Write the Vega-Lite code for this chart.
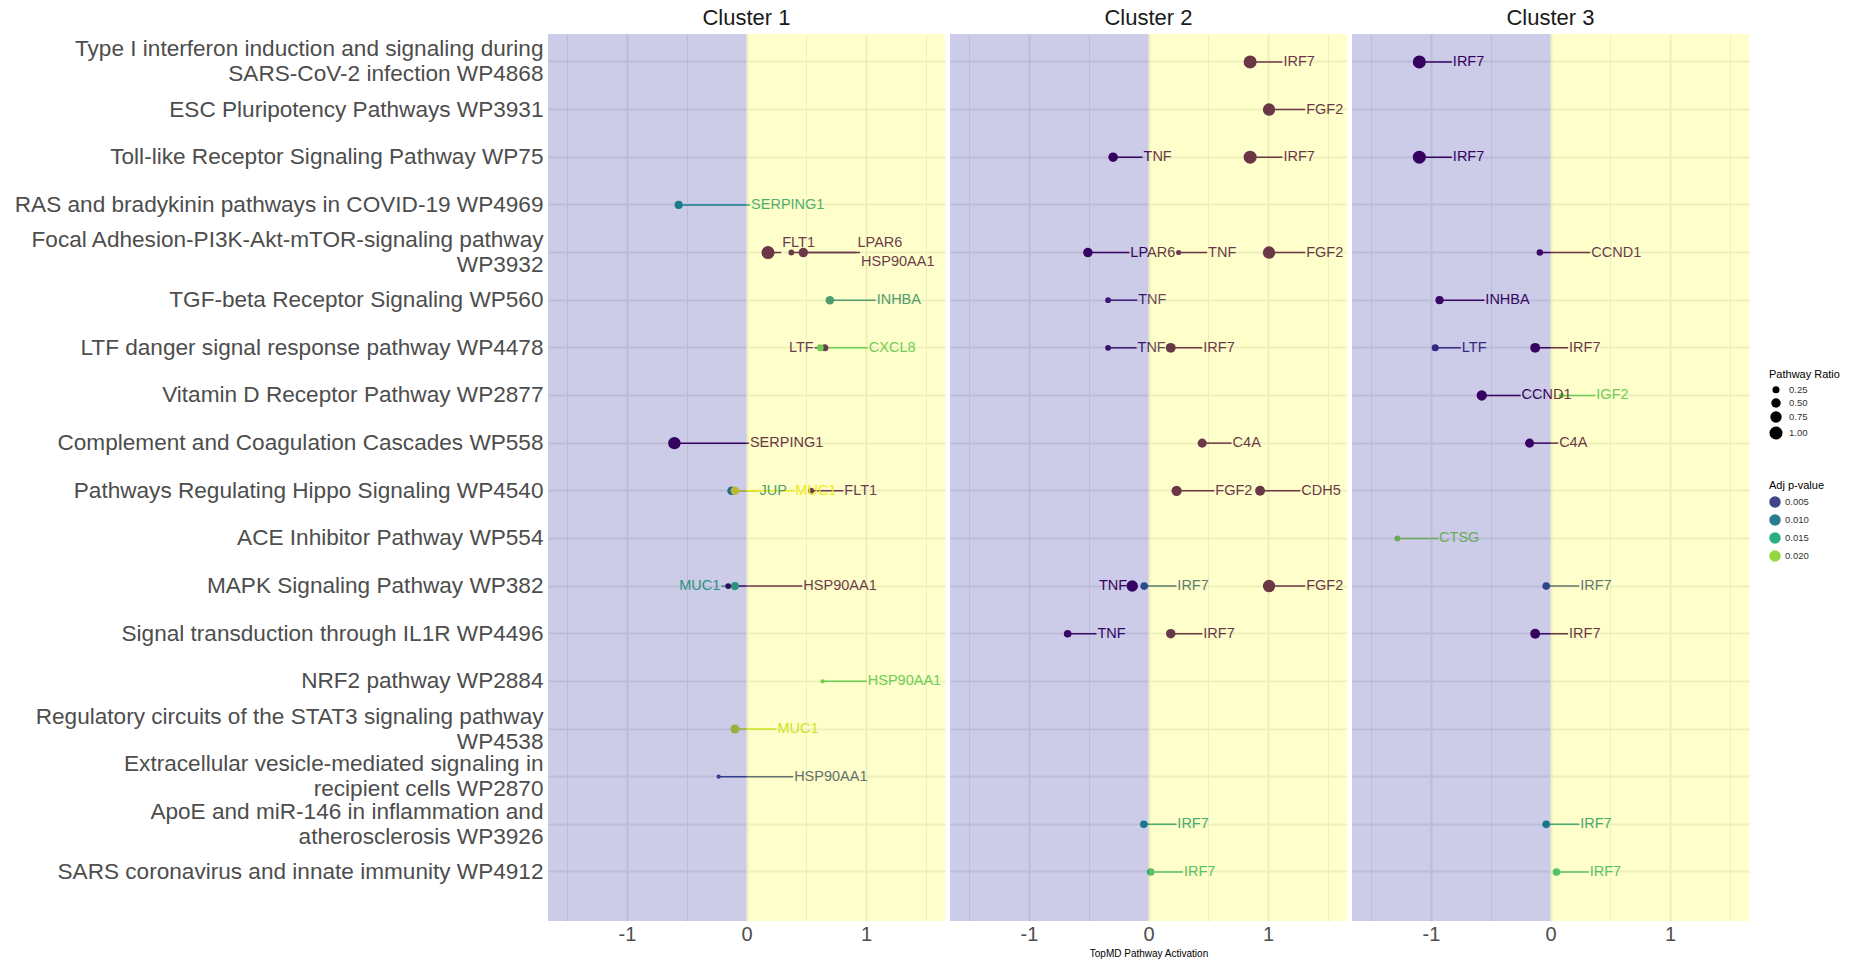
{
  "$schema": "https://vega.github.io/schema/vega-lite/v6.json",
  "background": "white",
  "padding": {"left": 14, "top": 7, "right": 5, "bottom": 5},
  "config": {
    "font": "Liberation Sans",
    "view": {"stroke": null},
    "axis": {"gridColor": "#EBEBEB", "domain": false, "ticks": false, "tickSize": 0, "title": null}
  },
  "data": {"values": [
    {"cluster": "Cluster 1", "pathway": "RAS and bradykinin pathways in COVID-19 WP4969", "gene": "SERPING1", "act": -0.567, "lab": 0.03, "shift": 0, "ratio": 0.35, "p": 0.013},
    {"cluster": "Cluster 1", "pathway": "Focal Adhesion-PI3K-Akt-mTOR-signaling pathway WP3932", "gene": "FLT1", "act": 0.18, "lab": 0.29, "shift": -1, "ratio": 1.0, "p": 0.0004},
    {"cluster": "Cluster 1", "pathway": "Focal Adhesion-PI3K-Akt-mTOR-signaling pathway WP3932", "gene": "LPAR6", "act": 0.375, "lab": 0.92, "shift": -1, "ratio": 0.15, "p": 0.0006},
    {"cluster": "Cluster 1", "pathway": "Focal Adhesion-PI3K-Akt-mTOR-signaling pathway WP3932", "gene": "HSP90AA1", "act": 0.475, "lab": 0.95, "shift": 1, "ratio": 0.5, "p": 0.0005},
    {"cluster": "Cluster 1", "pathway": "TGF-beta Receptor Signaling WP560", "gene": "INHBA", "act": 0.697, "lab": 1.08, "shift": 0, "ratio": 0.4, "p": 0.0105},
    {"cluster": "Cluster 1", "pathway": "LTF danger signal response pathway WP4478", "gene": "LTF", "act": 0.655, "lab": 0.57, "shift": 0, "ratio": 0.25, "p": 0.0008},
    {"cluster": "Cluster 1", "pathway": "LTF danger signal response pathway WP4478", "gene": "CXCL8", "act": 0.617, "lab": 1.015, "shift": 0, "ratio": 0.25, "p": 0.017},
    {"cluster": "Cluster 1", "pathway": "Complement and Coagulation Cascades WP558", "gene": "SERPING1", "act": -0.603, "lab": 0.02, "shift": 0, "ratio": 0.9, "p": 0.0002},
    {"cluster": "Cluster 1", "pathway": "Pathways Regulating Hippo Signaling WP4540", "gene": "JUP", "act": -0.125, "lab": 0.10, "shift": 0, "ratio": 0.4, "p": 0.011},
    {"cluster": "Cluster 1", "pathway": "Pathways Regulating Hippo Signaling WP4540", "gene": "MUC1", "act": -0.097, "lab": 0.40, "shift": 0, "ratio": 0.4, "p": 0.023},
    {"cluster": "Cluster 1", "pathway": "Pathways Regulating Hippo Signaling WP4540", "gene": "FLT1", "act": 0.54, "lab": 0.81, "shift": 0, "ratio": 0.15, "p": 0.0008},
    {"cluster": "Cluster 1", "pathway": "MAPK Signaling Pathway WP382", "gene": "MUC1", "act": -0.097, "lab": -0.21, "shift": 0, "ratio": 0.35, "p": 0.016},
    {"cluster": "Cluster 1", "pathway": "MAPK Signaling Pathway WP382", "gene": "HSP90AA1", "act": -0.153, "lab": 0.467, "shift": 0, "ratio": 0.15, "p": 0.0006},
    {"cluster": "Cluster 1", "pathway": "NRF2 pathway WP2884", "gene": "HSP90AA1", "act": 0.636, "lab": 1.006, "shift": 0, "ratio": 0.05, "p": 0.017},
    {"cluster": "Cluster 1", "pathway": "Regulatory circuits of the STAT3 signaling pathway WP4538", "gene": "MUC1", "act": -0.097, "lab": 0.25, "shift": 0, "ratio": 0.45, "p": 0.0214},
    {"cluster": "Cluster 1", "pathway": "Extracellular vesicle-mediated signaling in recipient cells WP2870", "gene": "HSP90AA1", "act": -0.233, "lab": 0.39, "shift": 0, "ratio": 0.05, "p": 0.0055},

    {"cluster": "Cluster 2", "pathway": "Type I interferon induction and signaling during SARS-CoV-2 infection WP4868", "gene": "IRF7", "act": 0.85, "lab": 1.12, "shift": 0, "ratio": 1.0, "p": 0.0003},
    {"cluster": "Cluster 2", "pathway": "ESC Pluripotency Pathways WP3931", "gene": "FGF2", "act": 1.008, "lab": 1.31, "shift": 0, "ratio": 0.9, "p": 0.0004},
    {"cluster": "Cluster 2", "pathway": "Toll-like Receptor Signaling Pathway WP75", "gene": "TNF", "act": -0.296, "lab": -0.05, "shift": 0, "ratio": 0.5, "p": 0.0003},
    {"cluster": "Cluster 2", "pathway": "Toll-like Receptor Signaling Pathway WP75", "gene": "IRF7", "act": 0.85, "lab": 1.12, "shift": 0, "ratio": 1.0, "p": 0.0003},
    {"cluster": "Cluster 2", "pathway": "Focal Adhesion-PI3K-Akt-mTOR-signaling pathway WP3932", "gene": "LPAR6", "act": -0.507, "lab": -0.16, "shift": 0, "ratio": 0.5, "p": 0.0004},
    {"cluster": "Cluster 2", "pathway": "Focal Adhesion-PI3K-Akt-mTOR-signaling pathway WP3932", "gene": "TNF", "act": 0.252, "lab": 0.49, "shift": 0, "ratio": 0.1, "p": 0.0005},
    {"cluster": "Cluster 2", "pathway": "Focal Adhesion-PI3K-Akt-mTOR-signaling pathway WP3932", "gene": "FGF2", "act": 1.008, "lab": 1.31, "shift": 0, "ratio": 0.9, "p": 0.0004},
    {"cluster": "Cluster 2", "pathway": "TGF-beta Receptor Signaling WP560", "gene": "TNF", "act": -0.338, "lab": -0.094, "shift": 0, "ratio": 0.15, "p": 0.002},
    {"cluster": "Cluster 2", "pathway": "LTF danger signal response pathway WP4478", "gene": "TNF", "act": -0.338, "lab": -0.1, "shift": 0, "ratio": 0.15, "p": 0.0015},
    {"cluster": "Cluster 2", "pathway": "LTF danger signal response pathway WP4478", "gene": "IRF7", "act": 0.186, "lab": 0.45, "shift": 0, "ratio": 0.55, "p": 0.0004},
    {"cluster": "Cluster 2", "pathway": "Complement and Coagulation Cascades WP558", "gene": "C4A", "act": 0.449, "lab": 0.695, "shift": 0, "ratio": 0.45, "p": 0.0005},
    {"cluster": "Cluster 2", "pathway": "Pathways Regulating Hippo Signaling WP4540", "gene": "FGF2", "act": 0.235, "lab": 0.55, "shift": 0, "ratio": 0.6, "p": 0.0004},
    {"cluster": "Cluster 2", "pathway": "Pathways Regulating Hippo Signaling WP4540", "gene": "CDH5", "act": 0.933, "lab": 1.27, "shift": 0, "ratio": 0.55, "p": 0.0004},
    {"cluster": "Cluster 2", "pathway": "MAPK Signaling Pathway WP382", "gene": "TNF", "act": -0.136, "lab": -0.17, "shift": 0, "ratio": 0.75, "p": 0.0003},
    {"cluster": "Cluster 2", "pathway": "MAPK Signaling Pathway WP382", "gene": "IRF7", "act": -0.036, "lab": 0.233, "shift": 0, "ratio": 0.3, "p": 0.007},
    {"cluster": "Cluster 2", "pathway": "MAPK Signaling Pathway WP382", "gene": "FGF2", "act": 1.008, "lab": 1.31, "shift": 0, "ratio": 0.9, "p": 0.0004},
    {"cluster": "Cluster 2", "pathway": "Signal transduction through IL1R WP4496", "gene": "TNF", "act": -0.676, "lab": -0.435, "shift": 0, "ratio": 0.3, "p": 0.0005},
    {"cluster": "Cluster 2", "pathway": "Signal transduction through IL1R WP4496", "gene": "IRF7", "act": 0.186, "lab": 0.45, "shift": 0, "ratio": 0.5, "p": 0.0004},
    {"cluster": "Cluster 2", "pathway": "ApoE and miR-146 in inflammation and atherosclerosis WP3926", "gene": "IRF7", "act": -0.039, "lab": 0.233, "shift": 0, "ratio": 0.3, "p": 0.0125},
    {"cluster": "Cluster 2", "pathway": "SARS coronavirus and innate immunity WP4912", "gene": "IRF7", "act": 0.019, "lab": 0.288, "shift": 0, "ratio": 0.3, "p": 0.0155},

    {"cluster": "Cluster 3", "pathway": "Type I interferon induction and signaling during SARS-CoV-2 infection WP4868", "gene": "IRF7", "act": -1.097, "lab": -0.825, "shift": 0, "ratio": 1.0, "p": 0.0002},
    {"cluster": "Cluster 3", "pathway": "Toll-like Receptor Signaling Pathway WP75", "gene": "IRF7", "act": -1.097, "lab": -0.825, "shift": 0, "ratio": 1.0, "p": 0.0002},
    {"cluster": "Cluster 3", "pathway": "Focal Adhesion-PI3K-Akt-mTOR-signaling pathway WP3932", "gene": "CCND1", "act": -0.089, "lab": 0.333, "shift": 0, "ratio": 0.2, "p": 0.0005},
    {"cluster": "Cluster 3", "pathway": "TGF-beta Receptor Signaling WP560", "gene": "INHBA", "act": -0.928, "lab": -0.553, "shift": 0, "ratio": 0.35, "p": 0.0005},
    {"cluster": "Cluster 3", "pathway": "LTF danger signal response pathway WP4478", "gene": "LTF", "act": -0.964, "lab": -0.75, "shift": 0, "ratio": 0.25, "p": 0.0035},
    {"cluster": "Cluster 3", "pathway": "LTF danger signal response pathway WP4478", "gene": "IRF7", "act": -0.128, "lab": 0.147, "shift": 0, "ratio": 0.55, "p": 0.0003},
    {"cluster": "Cluster 3", "pathway": "Vitamin D Receptor Pathway WP2877", "gene": "CCND1", "act": -0.575, "lab": -0.25, "shift": 0, "ratio": 0.6, "p": 0.0003},
    {"cluster": "Cluster 3", "pathway": "Vitamin D Receptor Pathway WP2877", "gene": "IGF2", "act": 0.092, "lab": 0.375, "shift": 0, "ratio": 0.1, "p": 0.017},
    {"cluster": "Cluster 3", "pathway": "Complement and Coagulation Cascades WP558", "gene": "C4A", "act": -0.175, "lab": 0.064, "shift": 0, "ratio": 0.45, "p": 0.0004},
    {"cluster": "Cluster 3", "pathway": "ACE Inhibitor Pathway WP554", "gene": "CTSG", "act": -1.28, "lab": -0.94, "shift": 0, "ratio": 0.15, "p": 0.0195},
    {"cluster": "Cluster 3", "pathway": "MAPK Signaling Pathway WP382", "gene": "IRF7", "act": -0.036, "lab": 0.24, "shift": 0, "ratio": 0.3, "p": 0.0065},
    {"cluster": "Cluster 3", "pathway": "Signal transduction through IL1R WP4496", "gene": "IRF7", "act": -0.128, "lab": 0.147, "shift": 0, "ratio": 0.55, "p": 0.0003},
    {"cluster": "Cluster 3", "pathway": "ApoE and miR-146 in inflammation and atherosclerosis WP3926", "gene": "IRF7", "act": -0.036, "lab": 0.24, "shift": 0, "ratio": 0.3, "p": 0.012},
    {"cluster": "Cluster 3", "pathway": "SARS coronavirus and innate immunity WP4912", "gene": "IRF7", "act": 0.05, "lab": 0.32, "shift": 0, "ratio": 0.3, "p": 0.0155}
  ]},
  "facet": {
    "column": {
      "field": "cluster", "type": "nominal",
      "header": {
        "title": "TopMD Pathway Activation", "titleOrient": "bottom", "titleFontSize": 10, "titleFontWeight": "normal", "titleColor": "#000000", "titlePadding": 0, "titleBaseline": "middle",
        "labelFontSize": 22, "labelColor": "#1A1A1A", "labelPadding": 4
      }
    }
  },
  "spacing": 5,
  "spec": {
    "width": 397,
    "height": 887,
    "layer": [
      {
        "mark": {"type": "rule", "strokeWidth": 1.5},
        "encoding": {
          "x": {"field": "act", "type": "quantitative"},
          "x2": {"field": "lab"},
          "y": {"field": "pathway", "type": "ordinal"},
          "color": {"field": "p", "type": "quantitative"}
        }
      },
      {
        "mark": {"type": "circle", "opacity": 1},
        "encoding": {
          "x": {"field": "act", "type": "quantitative",
            "scale": {"domain": [-1.66, 1.66], "nice": false, "zero": false},
            "axis": {"values": [-1.5, -1, -0.5, 0, 0.5, 1, 1.5], "labelExpr": "datum.value == -1 ? '-1' : datum.value == 0 ? '0' : datum.value == 1 ? '1' : ''",
              "gridWidth": {"condition": {"test": "datum.value % 1 == 0", "value": 2}, "value": 1},
              "labelFontSize": 20, "labelColor": "#4D4D4D", "labelPadding": 3}},
          "y": {"field": "pathway", "type": "ordinal",
            "scale": {"type": "band", "paddingInner": 0, "paddingOuter": 0.3075, "align": 0.14, "domain": [
              "Type I interferon induction and signaling during SARS-CoV-2 infection WP4868",
              "ESC Pluripotency Pathways WP3931",
              "Toll-like Receptor Signaling Pathway WP75",
              "RAS and bradykinin pathways in COVID-19 WP4969",
              "Focal Adhesion-PI3K-Akt-mTOR-signaling pathway WP3932",
              "TGF-beta Receptor Signaling WP560",
              "LTF danger signal response pathway WP4478",
              "Vitamin D Receptor Pathway WP2877",
              "Complement and Coagulation Cascades WP558",
              "Pathways Regulating Hippo Signaling WP4540",
              "ACE Inhibitor Pathway WP554",
              "MAPK Signaling Pathway WP382",
              "Signal transduction through IL1R WP4496",
              "NRF2 pathway WP2884",
              "Regulatory circuits of the STAT3 signaling pathway WP4538",
              "Extracellular vesicle-mediated signaling in recipient cells WP2870",
              "ApoE and miR-146 in inflammation and atherosclerosis WP3926",
              "SARS coronavirus and innate immunity WP4912"]},
            "axis": {"grid": true, "gridWidth": 2, "bandPosition": 0.5, "labelFontSize": 22.6, "labelColor": "#4D4D4D", "labelLimit": 1000, "labelPadding": 5, "labelLineHeight": 25,
              "labelOffset": {"condition": {"test": "length(datum.value) > 50", "value": -12.5}, "value": 0},
              "labelExpr": "datum.label == 'Type I interferon induction and signaling during SARS-CoV-2 infection WP4868' ? ['Type I interferon induction and signaling during', 'SARS-CoV-2 infection WP4868'] : datum.label == 'Focal Adhesion-PI3K-Akt-mTOR-signaling pathway WP3932' ? ['Focal Adhesion-PI3K-Akt-mTOR-signaling pathway', 'WP3932'] : datum.label == 'Regulatory circuits of the STAT3 signaling pathway WP4538' ? ['Regulatory circuits of the STAT3 signaling pathway', 'WP4538'] : datum.label == 'Extracellular vesicle-mediated signaling in recipient cells WP2870' ? ['Extracellular vesicle-mediated signaling in', 'recipient cells WP2870'] : datum.label == 'ApoE and miR-146 in inflammation and atherosclerosis WP3926' ? ['ApoE and miR-146 in inflammation and', 'atherosclerosis WP3926'] : datum.label"}},
          "size": {"field": "ratio", "type": "quantitative", "title": "Pathway Ratio",
            "scale": {"domain": [0, 1], "range": [10, 170]},
            "legend": {"values": [0.25, 0.5, 0.75, 1.0], "format": ".2f", "orient": "none", "legendX": 1221, "legendY": 335,
              "symbolFillColor": "#000000", "symbolStrokeWidth": 0, "symbolOpacity": 1, "labelOffset": 6,
              "titleFontSize": 11, "titleFontWeight": "normal", "titleColor": "#000000", "labelFontSize": 9.5, "labelColor": "#333333", "rowPadding": 3}},
          "color": {"field": "p", "type": "quantitative", "title": "Adj p-value",
            "scale": {"scheme": "viridis", "domain": [0.0001, 0.0238]},
            "legend": {"values": [0.005, 0.01, 0.015, 0.02], "format": ".3f", "orient": "none", "legendX": 1221, "legendY": 446, "direction": "vertical",
              "gradientLength": 89, "gradientThickness": 18,
              "titleFontSize": 11, "titleFontWeight": "normal", "titleColor": "#000000", "labelFontSize": 9.5, "labelColor": "#333333"}}
        }
      },
      {
        "transform": [{"filter": "datum.lab >= datum.act"}],
        "mark": {"type": "text", "align": "left", "baseline": "middle", "fontSize": 14.5, "dx": 1},
        "encoding": {
          "x": {"field": "lab", "type": "quantitative"},
          "y": {"field": "pathway", "type": "ordinal"},
          "yOffset": {"field": "shift", "type": "quantitative", "scale": {"domain": [-1, 1], "range": [14, 33.6]}},
          "text": {"field": "gene"},
          "color": {"field": "p", "type": "quantitative"}
        }
      },
      {
        "transform": [{"filter": "datum.lab < datum.act"}],
        "mark": {"type": "text", "align": "right", "baseline": "middle", "fontSize": 14.5, "dx": -1},
        "encoding": {
          "x": {"field": "lab", "type": "quantitative"},
          "y": {"field": "pathway", "type": "ordinal"},
          "text": {"field": "gene"},
          "color": {"field": "p", "type": "quantitative"}
        }
      },
      {
        "transform": [{"aggregate": [{"op": "count", "as": "n"}], "groupby": ["cluster"]}],
        "mark": {"type": "rect", "color": "#00008B", "opacity": 0.2},
        "encoding": {"x": {"datum": -1.66}, "x2": {"datum": 0}}
      },
      {
        "transform": [{"aggregate": [{"op": "count", "as": "n"}], "groupby": ["cluster"]}],
        "mark": {"type": "rect", "color": "#FFFF00", "opacity": 0.2},
        "encoding": {"x": {"datum": 0}, "x2": {"datum": 1.66}}
      }
    ]
  }
}
